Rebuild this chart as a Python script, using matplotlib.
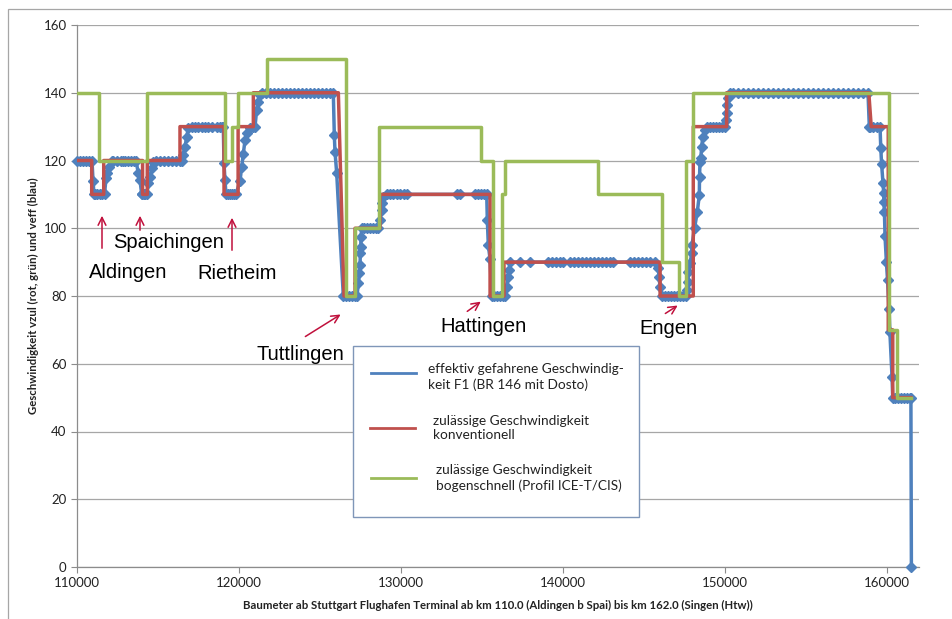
import matplotlib
matplotlib.use('Agg')
import matplotlib.pyplot as plt
from matplotlib.patches import Rectangle
from matplotlib.lines import Line2D

W, H = 952, 619

# effektiv gefahrene Geschwindigkeit (blau): Baumeter / km/h
veff_x = [
    110000, 110185, 110370, 110556, 110741, 110926, 110990, 111050,
    111100, 111250, 111400, 111550, 111700, 111791, 111871, 111995, 112143,
    112223, 112470, 112717, 112810, 112964, 113150, 113335, 113520, 113644,
    113786, 113891, 113996, 114045, 114138, 114230, 114323,
    114403, 114508, 114613, 114712,
    114879, 115126, 115373, 115620, 115867, 116114, 116361,
    116466, 116566, 116670, 116775, 116874,
    117084, 117288, 117492, 117701, 117905, 118109, 118319, 118628, 118832, 118937,
    119035, 119079, 119140, 119202,
    119326, 119450, 119573, 119697, 119820,
    120067, 120172, 120271, 120376, 120481, 120684, 120888, 120993,
    121098, 121197, 121302,
    121450, 121700, 121950, 122150, 122400, 122650, 122900, 123150, 123400,
    123650, 123900, 124150, 124400, 124650, 124900, 125150, 125400, 125650, 125829,
    125891, 125934, 126039, 126447,
    126614, 126799, 126984, 127169, 127293,
    127373, 127435, 127478, 127497, 127521, 127540, 127583,
    127725, 127910, 128095, 128281, 128466, 128590,
    128713, 128818, 128855, 128917,
    129146, 129331, 129516, 129763, 129948, 130195, 130381,
    133450, 133654, 134580, 134766, 134951, 135136, 135303,
    135340, 135402, 135507, 135612,
    135754, 135939, 136124, 136310, 136433,
    136538, 136637, 136699, 136742,
    137360, 137977, 139089, 139336, 139583, 139830, 140015,
    140448, 140695, 140942, 141189, 141436, 141683, 141930, 142177, 142424,
    142671, 142918, 143103, 144153, 144400, 144647, 144894, 145141, 145388, 145697,
    145901, 145944, 146006, 146111,
    146314, 146500, 146685, 146870, 147056, 147241, 147426, 147612,
    147692, 147735, 147754, 147859, 147963, 147982, 148137, 148309, 148433,
    148445, 148476, 148519, 148581, 148643, 148785,
    148890, 149097, 149279, 149465, 149650, 149835, 150020,
    150082, 150125, 150137, 150224, 150329,
    150500, 150800, 151150, 151450, 151750, 152050, 152350, 152700, 153000,
    153300, 153600, 153900, 154200, 154550, 154850, 155150, 155450, 155750,
    156050, 156400, 156700, 157000, 157300, 157600, 157900, 158250, 158550, 158850,
    158932, 158975, 159180, 159390, 159593,
    159640, 159690, 159779, 159822, 159830, 159865, 159902, 159988, 160056,
    160150, 160200, 160333, 160377,
    160524, 160705, 160890, 161076, 161261, 161446, 161500,
    161530,
]
veff_v = [
    120, 120, 120, 120, 120, 120, 114, 110,
    110, 110, 110, 110, 110, 114.7, 116.2, 118.2, 120,
    120, 120, 120, 120, 120, 120, 120, 120, 120,
    116.2, 114.2, 110, 110, 110, 110, 110,
    113.3, 115.2, 117.7, 119.6,
    120, 120, 120, 120, 120, 120, 120,
    120, 121.6, 124.1, 127, 129.5,
    130, 130, 130, 130, 130, 130, 130, 130, 130, 130,
    130, 119.2, 114.2, 110,
    110, 110, 110, 110, 110,
    114, 118.2, 122, 126, 128, 129.5, 130, 130,
    135, 137.4, 139.4,
    140, 140, 140, 140, 140, 140, 140, 140, 140,
    140, 140, 140, 140, 140, 140, 140, 140, 140, 140,
    127.5, 122.6, 116.2, 80,
    80, 80, 80, 80, 80,
    83.7, 86.7, 89.2, 92.6, 94.6, 97.5, 100,
    100, 100, 100, 100, 100, 100,
    102.4, 105.4, 107.4, 109.3,
    110, 110, 110, 110, 110, 110, 110,
    110, 110, 110, 110, 110, 110, 110,
    102.4, 95, 91, 80,
    80, 80, 80, 80, 80,
    82.7, 85.7, 87.7, 90,
    90, 90, 90, 90, 90, 90, 90,
    90, 90, 90, 90, 90, 90, 90, 90, 90,
    90, 90, 90, 90, 90, 90, 90, 90, 90, 90,
    88.2, 85.7, 82.7, 80,
    80, 80, 80, 80, 80, 80, 80, 80,
    81.8, 84.2, 87.2, 89.6, 92.6, 95.1, 100, 104.9, 109.8,
    115.2, 119.6, 120.6, 124.1, 127, 129,
    130, 130, 130, 130, 130, 130, 130,
    132, 134, 136.4, 138.4, 140,
    140, 140, 140, 140, 140, 140, 140, 140, 140,
    140, 140, 140, 140, 140, 140, 140, 140, 140,
    140, 140, 140, 140, 140, 140, 140, 140, 140, 140,
    130, 130, 130, 130, 130,
    123.6, 119, 113.4, 110.3, 107.8, 104.7, 97.6, 89.9, 84.8,
    76.3, 69.5, 56.2, 50,
    50, 50, 50, 50, 50, 50, 50,
    0,
]

# zulaessige Geschwindigkeit konventionell (rot)
vkonv_x = [110000, 110908, 110908, 111650, 111650, 114050, 114050, 114340,
           114340, 116360, 116360, 119080, 119080, 119950, 119950, 120890,
           120890, 126140, 126490, 127170, 127170, 128710, 128710, 135510,
           135510, 136370, 136370, 146010, 146010, 148060, 148060, 150120,
           150120, 158900, 159050, 160100, 160100, 160380, 160380, 161500]
vkonv_v = [120, 120, 110, 110, 120, 120, 110, 110,
           120, 120, 130, 130, 110, 110, 130, 130,
           140, 140, 80, 80, 100, 100, 110, 110,
           80, 80, 90, 90, 80, 80, 130, 130,
           140, 140, 130, 130, 70, 70, 50, 50]

# zulaessige Geschwindigkeit bogenschnell (gruen)
vbogen_x = [110000, 111380, 111380, 114340, 114340, 119140, 119140, 119550,
            119550, 119960, 119960, 121720, 121720, 126590, 126590, 127170,
            127170, 128670, 128670, 134950, 134950, 135710, 135710, 136230,
            136230, 136430, 136430, 142160, 142160, 146110, 146110, 147200,
            147200, 147610, 147610, 148030, 148030, 160150, 160150, 160650,
            160650, 161500]
vbogen_v = [140, 140, 120, 120, 140, 140, 120, 120,
            130, 130, 140, 140, 150, 150, 80, 80,
            100, 100, 130, 130, 120, 120, 80, 80,
            110, 110, 120, 120, 110, 110, 90, 90,
            80, 80, 120, 120, 140, 140, 70, 70,
            50, 50]

legend_texts = [
    'effektiv gefahrene Geschwindig-\nkeit F1 (BR 146 mit Dosto)',
    'zulässige Geschwindigkeit\nkonventionell',
    'zulässige Geschwindigkeit\nbogenschnell (Profil ICE-T/CIS)',
]

BLUE = '#4F81BD'
RED = '#C0504D'
GREEN = '#9BBB59'
ARROW = '#C0103C'
GRID = '#A6A6A6'

fig = plt.figure(figsize=(W / 100, H / 100), dpi=100)


def fx(px):
    return px / W


def fy(py):
    return 1 - py / H


ax = fig.add_axes([fx(77), fy(567), (919 - 77) / W, (567 - 25) / H])

ax.plot(veff_x, veff_v, color=BLUE, lw=2.5, marker='D', ms=5.2,
        mfc=BLUE, mec=BLUE, zorder=3, clip_on=False)
ax.plot(vkonv_x, vkonv_v, color=RED, lw=2.5, zorder=4)
ax.plot(vbogen_x, vbogen_v, color=GREEN, lw=2.5, zorder=5)

ax.set_xlim(110000, 162000)
ax.set_ylim(0, 160)
ax.set_xticks(range(110000, 160001, 10000))
ax.set_yticks(range(0, 161, 20))
ax.grid(axis='y', color=GRID, lw=0.9)
ax.set_axisbelow(True)
for s in ['top', 'right']:
    ax.spines[s].set_visible(False)
for s in ['left', 'bottom']:
    ax.spines[s].set_color('#8C8C8C')
    ax.spines[s].set_linewidth(0.9)
ax.tick_params(direction='out', length=4, color='#8C8C8C', labelsize=9.5,
               labelcolor='#222222')
for lab in ax.get_xticklabels() + ax.get_yticklabels():
    lab.set_fontfamily('Lato')

fig.text(fx(33), fy(296), 'Geschwindigkeit vzul (rot, grün) und veff (blau)',
         rotation=90, ha='center', va='center', fontsize=8.2,
         fontweight='bold', family='Lato', color='#222222')
fig.text(fx(498), fy(605),
         'Baumeter ab Stuttgart Flughafen Terminal ab km 110.0 '
         '(Aldingen b Spai) bis km 162.0 (Singen (Htw))',
         ha='center', va='center', fontsize=8.2, fontweight='bold',
         family='Lato', color='#222222')

# rahmen um das diagramm
fig.add_artist(Rectangle((fx(8), -0.1), 1.2, fy(9) + 0.1,
                         transform=fig.transFigure, fill=False,
                         ec='#A6A6A6', lw=0.9))

# ortsnamen mit pfeilen
places = [
    ('Aldingen', 128, 273, (102, 251), (102, 213)),
    ('Spaichingen', 169, 243, (140, 233), (140, 213)),
    ('Rietheim', 237, 274, (232, 253), (232, 215)),
    ('Tuttlingen', 300, 355, (303, 338), (343, 313)),
    ('Hattingen', 484, 327, (465, 313), (483, 300)),
    ('Engen', 668, 328, (663, 315), (680, 304)),
]
for name, tx, ty, a0, a1 in places:
    fig.text(fx(tx), fy(ty), name, ha='center', va='center', fontsize=14.5,
             family='Liberation Sans', color='black')
    ax.annotate('', xy=(fx(a1[0]), fy(a1[1])), xycoords='figure fraction',
                xytext=(fx(a0[0]), fy(a0[1])), textcoords='figure fraction',
                arrowprops=dict(arrowstyle='->', color=ARROW, lw=1.1,
                                mutation_scale=14))

# legende als textfeld
fig.add_artist(Rectangle((fx(353), fy(517)), (639 - 353) / W, (517 - 346) / H,
                         transform=fig.transFigure, fc='white',
                         ec='#7F96B8', lw=1.0, zorder=10))
leg_rows = [(BLUE, 373, 371, 428, 377), (RED, 428, 370, 433, 428),
            (GREEN, 478, 371, 436, 478)]
for (col, ly, lx, tx, ty), txt in zip(leg_rows, legend_texts):
    fig.add_artist(Line2D([fx(lx), fx(lx + 45)], [fy(ly), fy(ly)],
                          transform=fig.transFigure, color=col, lw=2.0,
                          zorder=11))
    fig.text(fx(tx), fy(ty), txt, ha='left', va='center', fontsize=9.8,
             family='Lato', color='#222222', linespacing=1.25, zorder=12)

fig.savefig('out.png', dpi=100)
